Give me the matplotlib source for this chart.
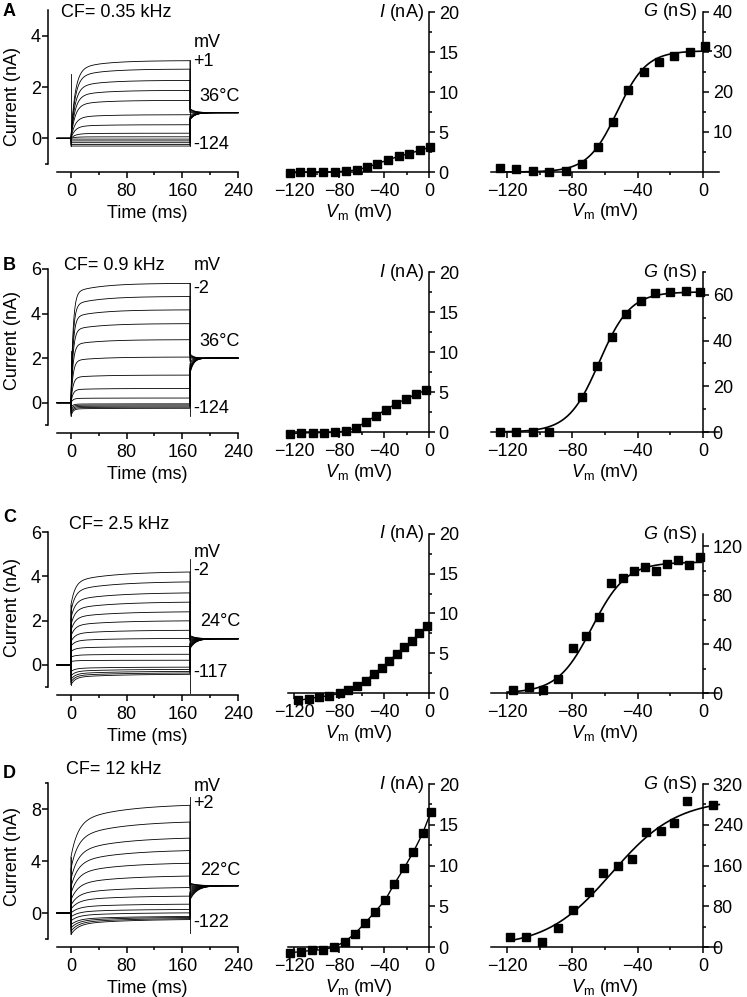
import numpy as np
import matplotlib
matplotlib.use("Agg")
import matplotlib.pyplot as plt
from matplotlib.ticker import FixedLocator

plt.rcParams['font.family'] = ['Liberation Sans', 'DejaVu Sans']
plt.rcParams['font.size'] = 13
plt.rcParams['mathtext.fontset'] = 'custom'
plt.rcParams['mathtext.rm'] = 'Liberation Sans'
plt.rcParams['mathtext.it'] = 'Liberation Sans:italic'

W, H = 747, 997

# ---------------- labels ----------------
letters = ['A', 'B', 'C', 'D']
cf_labels = ['CF= 0.35 kHz', 'CF= 0.9 kHz', 'CF= 2.5 kHz', 'CF= 12 kHz']
temp_labels = ['36\u00b0C', '36\u00b0C', '24\u00b0C', '22\u00b0C']
top_steps = ['+1', '-2', '-2', '+2']
bottom_steps = ['-124', '-124', '-117', '-122']

# ---------------- current traces (nA), lowest to highest step ----------------
# level at end of step
ss_A = [-0.30, -0.24, -0.17, -0.10, -0.03, 0.06, 0.20, 0.53, 0.92, 1.48, 1.87, 2.26, 2.70, 3.03]
ss_B = [-0.25, -0.20, -0.15, -0.10, -0.05, 0.21, 0.64, 1.24, 2.05, 2.83, 3.55, 4.17, 4.77, 5.36]
ss_C = [-0.42, -0.36, -0.29, -0.20, -0.10, 0.21, 0.48, 0.83, 1.20, 1.57, 2.00, 2.41, 2.85, 3.27, 3.77, 4.22]
ss_D = [-0.47, -0.40, -0.32, -0.25, 0.03, 0.29, 0.70, 1.33, 2.00, 2.90, 3.90, 4.89, 5.86, 7.11, 8.41]
# level just after step onset
i0_A = [-0.30, -0.24, -0.17, -0.10, -0.03, 0, 0, 0, 0, 0, 0, 0, 0, 0]
i0_B = [-0.60, -0.50, -0.40, -0.30, -0.20, 0, 0, 0, 0, 0, 0, 0, 0, 0]
i0_C = [-0.90, -0.78, -0.66, -0.50, -0.30, 0.15, 0.35, 0.60, 0.85, 1.05, 1.30, 1.55, 1.80, 2.10, 2.40, 2.70]
i0_D = [-1.65, -1.40, -1.15, -0.90, -0.60, -0.30, 0.0, 0.30, 0.60, 1.00, 1.50, 2.00, 2.60, 3.40, 4.30]
# tail current at step offset
tail0_A = [0.72, 0.73, 0.74, 0.75, 0.76, 0.78, 0.80, 0.86, 0.92, 1.00, 1.05, 1.10, 1.13, 1.16]
tail0_B = [1.30, 1.35, 1.40, 1.45, 1.50, 1.55, 1.65, 1.75, 1.85, 1.95, 2.05, 2.10, 2.15, 2.20]
tail0_C = [0.72, 0.76, 0.80, 0.84, 0.88, 0.92, 0.97, 1.02, 1.06, 1.10, 1.14, 1.18, 1.22, 1.26, 1.30, 1.33]
tail0_D = [1.00, 1.10, 1.20, 1.30, 1.40, 1.50, 1.60, 1.70, 1.80, 1.90, 2.00, 2.10, 2.20, 2.25, 2.30]
tail_end = [1.0, 2.0, 1.18, 2.1]
# kinetics (ms)
tau_on = [6, 3, 6, 10]
slow_frac = [0.12, 0.08, 0.30, 0.35]
tau_slow = [40, 40, 60, 70]
tau_tail = [7, 5, 8, 10]
T_OFF = 171
onset_spike = [2.5, 2.3, 2.7, 4.3]
offset_span = [(-0.30, 3.05), (-0.60, 5.35), (-1.25, 4.80), (-1.55, 8.90)]

# ---------------- I-V (nA) ----------------
V_A = [-124, -114.5, -104.5, -94.5, -84, -74, -64, -55, -46, -36.5, -27, -17.5, -8, 1]
I_A = [-0.13, -0.04, -0.04, 0, 0, 0.13, 0.25, 0.59, 1.05, 1.5, 1.97, 2.3, 2.72, 3.1]
V_B = [-123.3, -113.5, -103.5, -93.7, -84, -73.9, -64.7, -56.2, -47, -38.4, -29.6, -20.4, -11.5, -2.7]
I_B = [-0.2, -0.13, -0.08, -0.08, -0.04, 0.13, 0.54, 1.26, 2.05, 2.8, 3.5, 4.14, 4.73, 5.23]
V_C = [-116.6, -106.8, -97.7, -88.8, -79.5, -71.6, -63.9, -56.4, -49.1, -42.2, -35.5, -28.8, -22.3, -15.2, -8.5, -2]
I_C = [-0.93, -0.72, -0.5, -0.34, -0.04, 0.42, 0.93, 1.56, 2.4, 3.16, 4.0, 4.93, 5.73, 6.6, 7.5, 8.38]
V_D = [-123.7, -114, -104, -94, -84.3, -74.8, -65.9, -57, -48, -39, -30.9, -22.3, -13.9, -5.6, 1.8]
I_D = [-0.7, -0.57, -0.41, -0.33, 0, 0.66, 1.64, 2.92, 4.31, 5.75, 7.72, 9.65, 11.66, 13.96, 16.6]

# ---------------- G-V (nS) ----------------
Vg_A = [-124.2, -114.5, -104.3, -94.3, -84.1, -73.9, -64.2, -55, -46.2, -36.3, -26.9, -17.7, -8.1, 1.2]
G_A = [1.0, 0.76, 0.17, 0.08, 0.17, 2.0, 6.2, 12.6, 20.6, 25.1, 27.4, 28.9, 29.9, 31.5]
Vg_B = [-124.2, -114.5, -104.3, -94.3, -73.9, -65.2, -56, -47.3, -38.1, -29.1, -20, -10.6, -2]
G_B = [0, 0, 0, 0, 15.3, 28.8, 41.6, 51.6, 57.4, 60.6, 61.4, 61.5, 61.2]
Vg_C = V_C
G_C = [2.2, 4.9, 2.7, 11.7, 36.6, 46.9, 62.3, 90.2, 93.8, 99.7, 102.7, 99.7, 105.7, 108.4, 104.6, 111]
Vg_D = [-117.9, -108.5, -98.4, -89, -79.3, -70.1, -61.4, -52.2, -43.3, -34.6, -26, -17.9, -9.6, 6]
G_D = [19.7, 19.7, 9.9, 37.5, 72.3, 107, 146, 159, 173, 225, 228, 244, 286, 278]
# Boltzmann fit: Gmax (nS), V1/2 (mV), slope (mV), drawn range
boltz = [(30.3, -52.5, 9.0), (61.3, -63.5, 9.5), (107, -68, 10.5), (290, -56, 20)]
fit_range = [(-124, 5), (-124, 0), (-120, -1), (-120, 10)]

# ---------------- axes scales ----------------
trace_ylim = [(-1, 5), (-1, 6), (-1, 6), (-2, 10)]
trace_major = [[0, 2, 4], [0, 2, 4, 6], [0, 2, 4, 6], [0, 4, 8]]
trace_minor = [[-1], [-1], [-1], [-2, 10]]
g_top = [40, 70, 130, 320]
g_major = [[10, 20, 30, 40], [0, 20, 40, 60], [0, 40, 80, 120], [0, 80, 160, 240, 320]]
g_minor = [[5, 15, 25, 35], [10, 30, 50, 70], [20, 60, 100], [40, 120, 200, 280]]
iv_ymin = [-0.6, -0.6, -1.5, -1.5]

# pixel layout
tr_top = [10, 269, 532, 783]
tr_bot = [164, 425, 687, 939]
iv_top = [12, 272, 534, 784]
iv_zero = [172, 432, 693, 947]
ylab_y = [97, 340, 607, 857]
letter_y = [12, 266, 517, 773]

traces = [(ss_A, i0_A, tail0_A), (ss_B, i0_B, tail0_B), (ss_C, i0_C, tail0_C), (ss_D, i0_D, tail0_D)]
ivs = [(V_A, I_A), (V_B, I_B), (V_C, I_C), (V_D, I_D)]
gvs = [(Vg_A, G_A), (Vg_B, G_B), (Vg_C, G_C), (Vg_D, G_D)]
# text positions in data coords (t ms, I nA)
mv_y = [3.72, 6.17, 5.08, 9.75]
topstep_y = [2.99, 5.12, 4.24, 8.42]
temp_y = [1.64, 2.75, 1.95, 3.26]
botstep_y = [-0.23, -0.27, -0.36, -0.7]
cf_pos = [(-14, 4.9), (-10, 6.15), (-3, 6.36), (-7, 11.05)]

LW_AX = 1.1


def box(left, right, top, bottom):
    return [left / W, 1 - bottom / H, (right - left) / W, (bottom - top) / H]


def style_ticks(ax):
    ax.tick_params(which='major', direction='out', length=4, width=LW_AX, labelsize=13)
    ax.tick_params(which='minor', direction='out', length=2.5, width=LW_AX)
    for s in ax.spines.values():
        s.set_linewidth(LW_AX)


fig = plt.figure(figsize=(W / 100, H / 100), dpi=100)

for r in range(4):
    # ---- current traces ----
    ax = fig.add_axes(box(57, 238, tr_top[r], tr_bot[r]))
    ss, i0, tail0 = traces[r]
    t_on = np.linspace(0, T_OFF, 400)
    t_tail = np.linspace(T_OFF, 240, 200)
    f = slow_frac[r]
    for k in range(len(ss)):
        y_on = ss[k] + (i0[k] - ss[k]) * ((1 - f) * np.exp(-t_on / tau_on[r]) + f * np.exp(-t_on / tau_slow[r]))
        y_tail = tail_end[r] + (tail0[k] - tail_end[r]) * np.exp(-(t_tail - T_OFF) / tau_tail[r])
        t = np.concatenate([[-20, 0], t_on, t_tail])
        y = np.concatenate([[0, 0], y_on, y_tail])
        ax.plot(t, y, color='black', lw=0.6, clip_on=False)
    ax.plot([0.5, 0.5], [min(i0), onset_spike[r]], color='black', lw=0.6)
    ax.plot([T_OFF, T_OFF], offset_span[r], color='black', lw=0.6, clip_on=False)
    ax.set_xlim(-20, 240)
    ax.set_ylim(*trace_ylim[r])
    ax.spines['top'].set_visible(False)
    ax.spines['right'].set_visible(False)
    ax.spines['left'].set_position(('outward', 6.5))
    ax.spines['bottom'].set_position(('outward', 6))
    ax.xaxis.set_major_locator(FixedLocator([0, 80, 160, 240]))
    ax.xaxis.set_minor_locator(FixedLocator([40, 120, 200]))
    ax.yaxis.set_major_locator(FixedLocator(trace_major[r]))
    ax.yaxis.set_minor_locator(FixedLocator(trace_minor[r]))
    style_ticks(ax)
    ax.tick_params(axis='y', which='major', pad=1)
    ax.tick_params(axis='x', which='major', pad=4)
    ax.set_xlabel('Time (ms)', fontsize=13, labelpad=3)
    ax.set_ylabel('Current (nA)', fontsize=13, va='center')
    ax.yaxis.set_label_coords((12 - 57) / 181, (tr_bot[r] - ylab_y[r]) / (tr_bot[r] - tr_top[r]))
    ax.text(176, mv_y[r], 'mV', fontsize=13, ha='left', va='center')
    ax.text(176, topstep_y[r], top_steps[r], fontsize=13, ha='left', va='center')
    ax.text(185, temp_y[r], temp_labels[r], fontsize=13, ha='left', va='center')
    ax.text(176, botstep_y[r], bottom_steps[r], fontsize=13, ha='left', va='center')
    ax.text(cf_pos[r][0], cf_pos[r][1], cf_labels[r], fontsize=13, ha='left', va='center')
    fig.text(3 / W, 1 - letter_y[r] / H, letters[r], fontsize=13, fontweight='bold', ha='left', va='center')

    # ---- I-V ----
    s = (iv_zero[r] - iv_top[r]) / 20.0
    ax = fig.add_axes(box(288.4, 429, iv_top[r], iv_zero[r] - iv_ymin[r] * s))
    V, I = ivs[r]
    ax.plot(V, I, color='black', lw=1.0, clip_on=False)
    ax.plot(V, I, ls='none', marker='s', ms=6, color='black', clip_on=False, zorder=5)
    ax.set_xlim(-125, 0)
    ax.set_ylim(iv_ymin[r], 20)
    ax.spines['top'].set_visible(False)
    ax.spines['left'].set_visible(False)
    ax.spines['bottom'].set_position(('data', 0))
    ax.spines['right'].set_bounds(0, 20)
    ax.yaxis.tick_right()
    ax.xaxis.set_major_locator(FixedLocator([-120, -80, -40, 0]))
    ax.xaxis.set_minor_locator(FixedLocator([-100, -60, -20]))
    ax.yaxis.set_major_locator(FixedLocator([0, 5, 10, 15, 20]))
    ax.yaxis.set_minor_locator(FixedLocator([2.5, 7.5, 12.5, 17.5]))
    style_ticks(ax)
    ax.tick_params(axis='y', which='major', pad=3)
    ax.tick_params(axis='x', which='major', pad=4)
    ax.set_xlabel(r'$V_{\rm m}$ (mV)', fontsize=13, labelpad=1)
    ax.annotate(r'$I$ (nA)', xy=(0, 20), xytext=(-4, 0), textcoords='offset points',
                ha='right', va='center', fontsize=13)

    # ---- G-V ----
    ax = fig.add_axes(box(490.7, 719.3, iv_top[r], iv_zero[r]))
    Vg, G = gvs[r]
    gmax, vh, kk = boltz[r]
    vf = np.linspace(fit_range[r][0], fit_range[r][1], 300)
    ax.plot(vf, gmax / (1 + np.exp((vh - vf) / kk)), color='black', lw=1.2, clip_on=False)
    ax.plot(Vg, G, ls='none', marker='s', ms=6, color='black', clip_on=False, zorder=5)
    ax.set_xlim(-130, 10)
    ax.set_ylim(0, g_top[r])
    ax.spines['top'].set_visible(False)
    ax.spines['left'].set_visible(False)
    ax.spines['right'].set_position(('data', 0))
    ax.yaxis.tick_right()
    ax.xaxis.set_major_locator(FixedLocator([-120, -80, -40, 0]))
    ax.xaxis.set_minor_locator(FixedLocator([-100, -60, -20]))
    ax.yaxis.set_major_locator(FixedLocator(g_major[r]))
    ax.yaxis.set_minor_locator(FixedLocator(g_minor[r]))
    style_ticks(ax)
    ax.tick_params(axis='y', which='major', pad=3)
    ax.tick_params(axis='x', which='major', pad=4)
    ax.set_xlabel(r'$V_{\rm m}$ (mV)', fontsize=13, labelpad=1)
    ax.annotate(r'$G$ (nS)', xy=(0, g_top[r]), xytext=(-4, 0), textcoords='offset points',
                ha='right', va='center', fontsize=13)

fig.savefig('out.png', dpi=100)
